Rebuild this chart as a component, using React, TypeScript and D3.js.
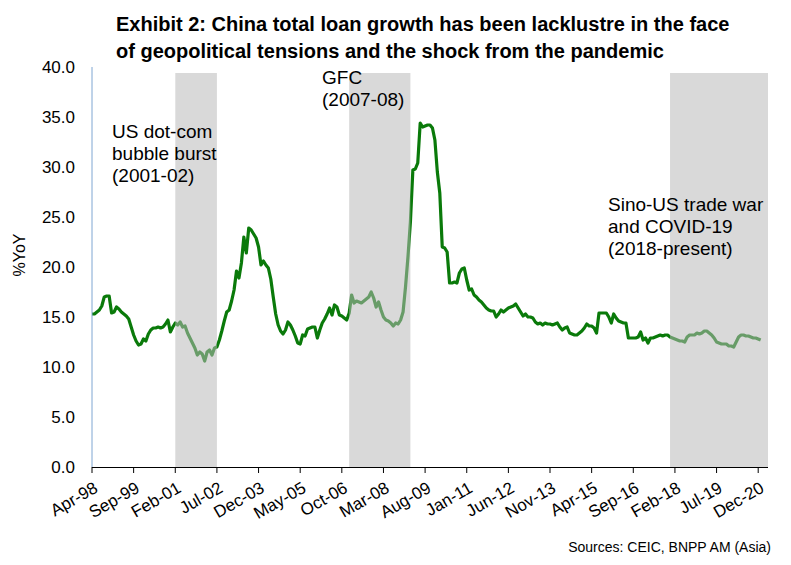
import React from "react";
import * as d3 from "d3";

// ---------- DATA ----------
const startMonth = "1998-04"; // first monthly observation
const loanGrowth: number[] = [
  // 1998 Apr..Dec
  15.3, 15.3, 15.5, 15.7, 16.1, 17.0, 17.1, 17.1, 15.4,
  // 1999
  15.5, 16.0, 15.8, 15.5, 15.3, 15.1, 14.8, 14.0, 13.2, 12.6, 12.2, 12.3,
  // 2000
  12.8, 12.6, 13.3, 13.7, 13.9, 13.9, 14.0, 13.9, 14.0, 14.3, 14.7, 13.5,
  // 2001
  14.0, 14.4, 14.2, 14.5, 14.0, 14.1, 13.4, 12.9, 12.4, 11.9, 11.2, 11.5,
  // 2002
  11.3, 10.6, 11.5, 11.7, 11.2, 11.9, 12.0, 12.7, 13.6, 14.6, 15.5, 15.7,
  // 2003
  16.6, 17.7, 19.6, 18.9, 20.4, 23.0, 21.4, 23.9, 23.7, 23.3, 22.9, 22.0,
  // 2004
  20.2, 20.6, 20.2, 19.9, 18.8, 17.0, 15.3, 14.2, 13.6, 13.3, 13.7, 14.5,
  // 2005
  14.2, 13.7, 13.1, 12.4, 12.3, 13.2, 13.1, 13.8, 13.9, 14.0, 14.0, 12.9,
  // 2006
  13.7, 14.4, 14.8, 15.3, 15.9, 15.2, 16.2, 16.0, 15.2, 15.1, 14.9, 14.7,
  // 2007
  15.4, 17.2, 16.4, 16.6, 16.5, 16.4, 16.6, 16.8, 17.0, 17.5, 16.9, 16.0,
  // 2008
  16.5, 15.7, 15.0, 14.7, 14.6, 14.4, 14.1, 14.4, 14.3, 14.7, 15.5, 18.0,
  // 2009
  21.0, 24.5, 29.7, 29.8, 30.4, 34.4, 34.0, 34.1, 34.2, 34.2, 33.9, 32.7,
  // 2010
  29.5, 27.4, 22.0, 21.9, 21.5, 18.4, 18.4, 18.5, 18.4, 19.4, 19.8, 19.9,
  // 2011
  18.7, 17.7, 17.8, 17.2, 17.0, 16.7, 16.5, 16.2, 15.9, 15.7, 15.6, 15.6,
  // 2012
  15.0, 15.3, 15.7, 15.5, 15.7, 15.9, 16.0, 16.1, 16.3, 15.9, 15.5, 15.1,
  // 2013
  15.3, 15.0, 15.0, 14.9, 14.5, 14.3, 14.4, 14.2, 14.4, 14.3, 14.3, 14.2,
  // 2014
  14.3, 14.4, 14.0, 13.7, 13.9, 14.0, 13.4, 13.3, 13.2, 13.2, 13.4, 13.6,
  // 2015
  13.9, 14.3, 14.1, 14.1, 13.9, 13.4, 15.4, 15.4, 15.4, 15.4, 15.0, 14.4,
  // 2016
  15.3, 14.9, 14.6, 14.5, 14.4, 14.4, 12.9, 12.9, 12.9, 12.9, 13.0, 13.5,
  // 2017
  12.7, 12.9, 12.4, 12.9, 12.9, 13.0, 13.1, 13.2, 13.1, 13.2, 13.2, 13.0,
  // 2018
  12.9, 12.8, 12.7, 12.6, 12.6, 12.5, 13.0, 13.2, 13.2, 13.2, 13.4, 13.3,
  // 2019
  13.4, 13.6, 13.6, 13.4, 13.2, 12.9, 12.5, 12.4, 12.3, 12.3, 12.3, 12.1,
  // 2020
  12.1, 12.0, 12.5, 13.0, 13.2, 13.2, 13.1, 13.1, 13.0, 12.9, 12.9, 12.8,
  // 2021
  12.7,
];

const axisEndMonth = "2021-04";
const xTickLabels = [
  "Apr-98", "Sep-99", "Feb-01", "Jul-02", "Dec-03", "May-05", "Oct-06", "Mar-08",
  "Aug-09", "Jan-11", "Jun-12", "Nov-13", "Apr-15", "Sep-16", "Feb-18", "Jul-19", "Dec-20",
];
const yTicks = [0, 5, 10, 15, 20, 25, 30, 35, 40];

const shadeStarts = ["2001-02", "2007-01", "2017-12"];
const shadeEnds = ["2002-07", "2009-02", "2021-04"];

const titleLines = [
  "Exhibit 2: China total loan growth has been lacklustre in the face",
  "of geopolitical tensions and the shock from the pandemic",
];
const noteDotcom = ["US dot-com", "bubble burst", "(2001-02)"];
const noteGfc = ["GFC", "(2007-08)"];
const noteTrade = ["Sino-US trade war", "and COVID-19", "(2018-present)"];
const yAxisTitle = "%YoY";
const sourceText = "Sources: CEIC, BNPP AM (Asia)";

// ---------- HELPERS ----------
const monthIndex = (s: string) => {
  const [y, m] = s.split("-").map(Number);
  const [y0, m0] = startMonth.split("-").map(Number);
  return (y - y0) * 12 + (m - m0);
};

const NARROW = "'Liberation Sans Narrow', 'Arial Narrow', 'Liberation Sans', Arial, sans-serif";
const SANS = "'Liberation Sans', Arial, sans-serif";

export default function App() {
  const W = 791;
  const H = 565;
  const left = 92;
  const right = 768;
  const top = 67;
  const bottom = 467;

  const x = d3.scaleLinear().domain([0, monthIndex(axisEndMonth)]).range([left, right]);
  const y = d3.scaleLinear().domain([0, 40]).range([bottom, top]);

  const line = d3
    .line<number>()
    .x((_, i) => x(i))
    .y((v) => y(v));

  const tickIdx = xTickLabels.map((_, i) => i * 17);

  const shadeTopValue = 39.4;

  const noteBlock = (lines: string[], x0: number, y0: number, key: string) => (
    <text key={key} x={x0} y={y0} fontFamily={SANS} fontSize={19} fill="#000">
      {lines.map((l, i) => (
        <tspan key={i} x={x0} dy={i === 0 ? 0 : 21.8}>
          {l}
        </tspan>
      ))}
    </text>
  );

  return (
    <svg width={W} height={H} style={{ position: "absolute", left: 0, top: 0, background: "#fff" }}>
      <rect x={0} y={0} width={W} height={H} fill="#fff" />
      {/* title */}
      <text fontFamily={NARROW} fontWeight="bold" fontSize={20} fill="#000">
        {titleLines.map((t, i) => (
          <tspan key={i} x={116} y={31 + i * 27}>
            {t}
          </tspan>
        ))}
      </text>

      {/* data line */}
      <path
        d={line(loanGrowth) || ""}
        fill="none"
        stroke="#0a7a0a"
        strokeWidth={3.2}
        strokeLinejoin="round"
      />

      {/* shaded periods (semi-transparent overlay) */}
      {shadeStarts.map((s, i) => (
        <rect
          key={i}
          x={x(monthIndex(s))}
          y={y(shadeTopValue)}
          width={x(monthIndex(shadeEnds[i])) - x(monthIndex(s))}
          height={y(0) - y(shadeTopValue)}
          fill="#b8b8b8"
          fillOpacity={0.54}
        />
      ))}

      {/* y axis */}
      <line x1={left} x2={left} y1={top} y2={bottom} stroke="#7fa6d2" strokeWidth={1} />
      {yTicks.map((t) => (
        <text
          key={t}
          x={75}
          y={y(t)}
          dy="0.36em"
          textAnchor="end"
          fontFamily={NARROW}
          fontSize={17}
          fill="#000"
        >
          {t.toFixed(1)}
        </text>
      ))}
      <text
        transform={`translate(25, 255) rotate(-90)`}
        textAnchor="middle"
        fontFamily={NARROW}
        fontSize={16}
        fill="#000"
      >
        {yAxisTitle}
      </text>

      {/* x axis */}
      <line x1={left} x2={right} y1={bottom + 0.5} y2={bottom + 0.5} stroke="#000" strokeWidth={1} />
      {tickIdx.map((m, i) => (
        <g key={i}>
          <line x1={x(m)} x2={x(m)} y1={bottom} y2={bottom + 6} stroke="#000" strokeWidth={1} />
          <text
            transform={`translate(${x(m) + 4}, ${bottom + 19}) rotate(-30)`}
            textAnchor="end"
            dy="0.35em"
            fontFamily={NARROW}
            fontSize={17}
            fill="#000"
          >
            {xTickLabels[i]}
          </text>
        </g>
      ))}

      {/* annotations */}
      {noteBlock(noteDotcom, 112, 138, "n1")}
      {noteBlock(noteGfc, 322, 84, "n2")}
      {noteBlock(noteTrade, 608, 211, "n3")}

      {/* source */}
      <text x={771} y={552} textAnchor="end" fontFamily={NARROW} fontSize={14} fill="#000">
        {sourceText}
      </text>
    </svg>
  );
}
